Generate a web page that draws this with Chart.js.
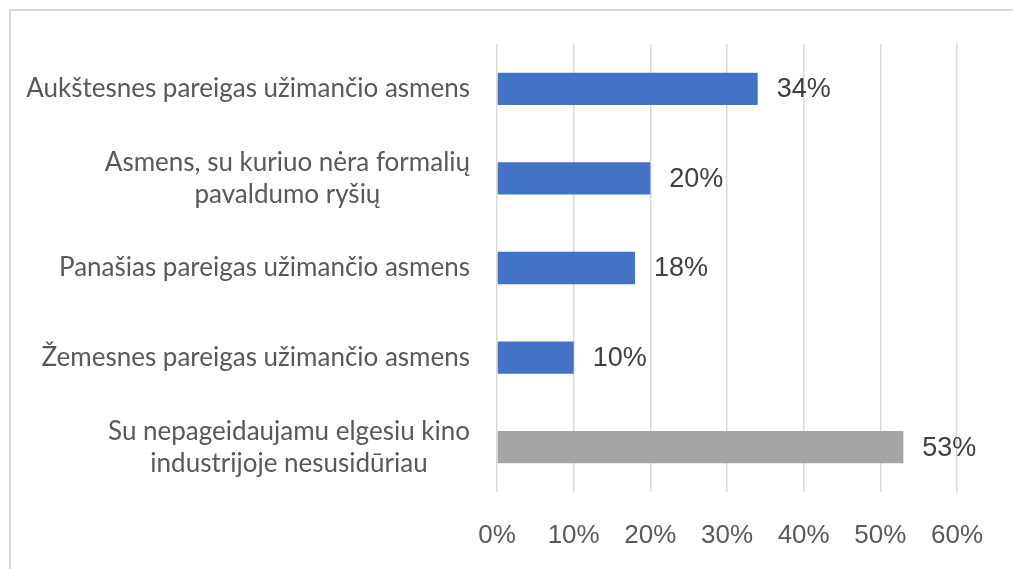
<!DOCTYPE html>
<html>
<head>
<meta charset="utf-8">
<script src="https://cdn.jsdelivr.net/npm/chart.js@4.4.1/dist/chart.umd.min.js"></script>
<style>
  html, body { margin: 0; padding: 0; background: #fff; overflow: hidden; }
  #frame { position: absolute; left: 9px; top: 9px; width: 1100px; height: 700px; border: 2px solid #d9d9d9; box-sizing: border-box; }
  #chart { position: absolute; left: 0; top: 0; }
</style>
</head>
<body>
<div id="frame"></div>
<canvas id="chart" width="1013" height="569"></canvas>
<script>
// data
const categories = [
  ["Aukštesnes pareigas užimančio asmens"],
  ["Asmens, su kuriuo nėra formalių", "pavaldumo ryšių"],
  ["Panašias pareigas užimančio asmens"],
  ["Žemesnes pareigas užimančio asmens"],
  ["Su nepageidaujamu elgesiu kino", "industrijoje nesusidūriau"]
];
const values = [34, 20, 18, 10, 53];
const barColors = ["#4472c4", "#4472c4", "#4472c4", "#4472c4", "#a5a5a5"];
const xTicks = [0, 10, 20, 30, 40, 50, 60];

// draws the category labels (multi-line blocks, right aligned, lines centered) and value labels
const labelPlugin = {
  id: "labels",
  afterDatasetsDraw(chart) {
    const ctx = chart.ctx;
    const yScale = chart.scales.y;
    const meta = chart.getDatasetMeta(0);
    ctx.save();

    ctx.font = "26px Lato";
    ctx.fillStyle = "#595959";
    ctx.textAlign = "center";
    ctx.textBaseline = "middle";
    const rightEdge = chart.chartArea.left - 27;
    const lineH = 32;
    categories.forEach((lines, i) => {
      const cy = yScale.getPixelForValue(i);
      const w = Math.max(...lines.map(l => ctx.measureText(l).width));
      const cx = rightEdge - w / 2;
      lines.forEach((l, j) => {
        ctx.fillText(l, cx, cy + (j - (lines.length - 1) / 2) * lineH);
      });
    });

    ctx.font = "27px 'Liberation Sans'";
    ctx.fillStyle = "#404040";
    ctx.textAlign = "left";
    meta.data.forEach((bar, i) => {
      ctx.fillText(values[i] + "%", bar.x + 19, bar.y + 1);
    });
    ctx.restore();
  }
};

new Chart(document.getElementById("chart"), {
  type: "bar",
  data: {
    labels: categories.map(c => c.join(" ")),
    datasets: [{
      data: values,
      backgroundColor: barColors,
      categoryPercentage: 1,
      barPercentage: 0.36
    }]
  },
  options: {
    indexAxis: "y",
    responsive: false,
    animation: false,
    layout: { padding: { left: 497, right: 56, top: 44, bottom: 0 } },
    plugins: { legend: { display: false }, tooltip: { enabled: false } },
    scales: {
      y: { display: false },
      x: {
        min: 0,
        max: 60,
        afterBuildTicks(scale) { scale.ticks = xTicks.map(v => ({ value: v })); },
        afterFit(scale) { scale.height = 77; },
        grid: { color: "#d9d9d9", lineWidth: 1.5, drawTicks: false },
        border: { display: false },
        ticks: {
          padding: 28,
          color: "#595959",
          font: { family: "Liberation Sans", size: 26 },
          callback: v => v + "%"
        }
      }
    }
  },
  plugins: [labelPlugin]
});
</script>
</body>
</html>
